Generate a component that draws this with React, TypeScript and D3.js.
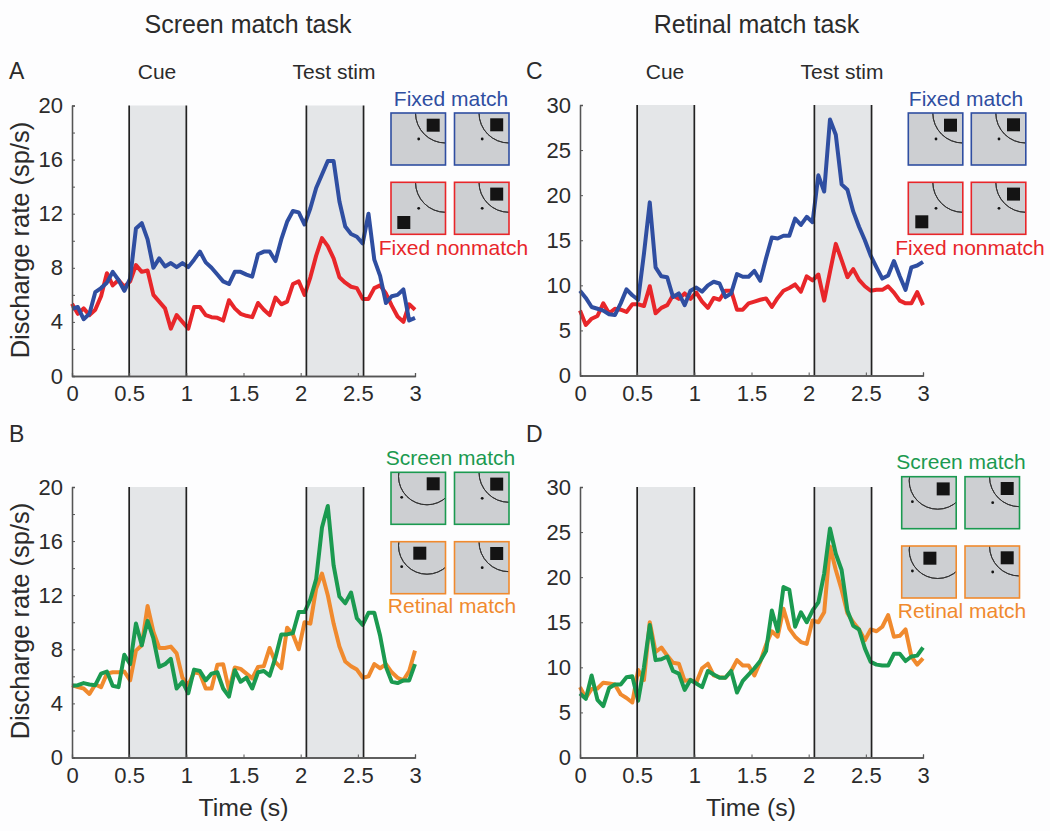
import { useEffect, useRef } from "react";
import * as d3 from "d3";

// 60 bins spread over the 3 s trial
const times = d3.range(60).map((i) => (i * 3) / 59);

const fixedMatchA = [4.97, 5.1, 4.2, 4.6, 6.2, 6.5, 6.9, 7.7, 7.1, 6.3, 7.2, 10.9, 11.3, 10.1, 8.0, 8.7, 8.1, 8.35, 8.05, 8.35, 8.05, 8.6, 9.2, 8.4, 8.0, 7.5, 7.0, 6.8, 7.7, 7.7, 7.5, 7.35, 9.0, 9.2, 9.2, 8.5, 10.1, 11.4, 12.2, 12.1, 11.2, 12.4, 13.9, 14.9, 15.9, 15.9, 12.9, 11.05, 10.5, 10.3, 9.8, 12.0, 8.6, 7.4, 5.4, 5.9, 6.0, 6.4, 4.1, 4.3];
const fixedNonmatchA = [5.35, 4.6, 5.0, 4.5, 4.9, 5.9, 7.6, 6.7, 7.1, 6.6, 7.0, 8.2, 7.7, 7.8, 6.0, 5.5, 5.0, 3.5, 4.5, 4.0, 3.5, 5.1, 5.1, 4.5, 4.35, 4.3, 4.1, 5.6, 5.0, 4.6, 4.45, 4.35, 5.4, 4.9, 4.5, 5.8, 5.3, 5.5, 6.8, 7.0, 6.0, 7.3, 8.9, 10.2, 9.6, 8.7, 7.3, 6.9, 6.6, 6.5, 5.7, 5.7, 6.5, 6.7, 6.1, 5.2, 4.4, 4.0, 5.3, 4.9];

const screenMatchB = [5.3, 5.35, 5.5, 5.4, 5.35, 6.2, 6.35, 5.3, 5.2, 7.6, 6.9, 9.9, 8.3, 10.1, 8.8, 6.7, 6.9, 7.3, 5.1, 5.6, 4.75, 6.5, 6.4, 5.7, 6.2, 6.3, 5.1, 4.5, 6.45, 5.6, 5.9, 5.1, 6.3, 6.4, 6.05, 7.4, 9.1, 9.1, 9.2, 10.75, 10.75, 11.7, 13.2, 17.0, 18.6, 14.2, 11.9, 11.4, 12.2, 10.3, 9.8, 10.7, 10.7, 9.0, 6.7, 5.6, 5.5, 5.7, 5.7, 6.9];
const retinalMatchB = [5.35, 5.2, 5.1, 4.7, 5.4, 5.2, 6.2, 6.3, 6.3, 6.35, 5.7, 7.9, 8.3, 11.2, 9.3, 8.1, 8.1, 8.2, 7.7, 5.9, 5.35, 6.3, 6.2, 5.1, 5.1, 6.85, 6.9, 5.0, 6.65, 6.55, 6.2, 5.85, 6.7, 6.75, 8.1, 7.05, 6.6, 9.6, 9.1, 8.0, 10.0, 9.9, 12.5, 13.6, 12.0, 9.9, 8.2, 7.1, 6.75, 6.5, 5.9, 6.0, 6.9, 6.6, 6.9, 6.3, 5.9, 5.7, 6.4, 7.9];

const fixedMatchC = [9.4, 8.6, 7.6, 7.4, 7.2, 6.8, 6.7, 8.0, 9.55, 8.9, 8.4, 13.5, 19.2, 12.0, 11.0, 10.9, 8.7, 9.1, 7.8, 9.4, 9.75, 9.3, 10.0, 10.4, 10.2, 8.7, 9.1, 11.25, 10.95, 10.95, 11.6, 10.5, 13.0, 15.3, 15.2, 15.5, 15.5, 17.4, 16.7, 17.6, 17.0, 22.2, 20.4, 28.4, 26.7, 21.2, 20.6, 18.2, 16.5, 15.0, 13.3, 12.0, 10.75, 11.1, 12.7, 11.0, 9.5, 12.0, 12.2, 12.6];
const fixedNonmatchC = [7.2, 5.6, 6.3, 6.6, 8.0, 6.9, 7.4, 7.3, 7.05, 7.9, 7.9, 7.7, 9.9, 6.9, 7.5, 7.8, 8.9, 8.5, 9.1, 8.5, 9.2, 8.2, 7.5, 8.6, 8.4, 9.4, 9.4, 7.3, 7.3, 8.0, 8.2, 8.4, 8.55, 7.6, 8.6, 9.4, 9.7, 10.1, 9.3, 11.0, 10.55, 11.2, 8.3, 11.5, 14.6, 12.8, 10.9, 11.8, 10.6, 9.9, 9.4, 9.5, 9.5, 9.9, 9.2, 8.3, 8.0, 8.0, 9.25, 7.8];

const screenMatchD = [7.1, 6.5, 9.1, 6.4, 5.7, 7.7, 8.1, 8.1, 8.9, 9.0, 6.3, 10.0, 14.7, 10.8, 10.9, 11.2, 9.6, 9.3, 7.5, 8.6, 8.2, 7.8, 9.6, 9.2, 8.85, 8.85, 9.6, 7.2, 8.5, 9.2, 9.9, 10.7, 11.8, 16.3, 14.0, 18.9, 18.6, 14.5, 16.1, 15.0, 16.3, 17.2, 20.4, 25.4, 22.6, 20.8, 16.3, 14.6, 14.2, 12.1, 10.6, 10.3, 10.2, 10.2, 11.5, 11.5, 10.7, 11.2, 11.3, 12.2];
const retinalMatchD = [7.8, 6.6, 7.6, 7.65, 8.3, 8.2, 8.1, 7.0, 6.6, 6.1, 9.7, 8.6, 15.0, 11.7, 12.2, 11.3, 10.5, 10.4, 8.5, 8.6, 8.3, 9.9, 10.4, 9.1, 8.9, 8.85, 9.6, 10.8, 10.2, 10.2, 9.1, 10.6, 12.5, 14.0, 13.4, 16.5, 14.3, 13.4, 12.8, 12.6, 15.2, 15.0, 16.1, 23.4, 20.8, 18.6, 16.0, 15.0, 14.2, 13.0, 14.2, 14.0, 14.5, 15.8, 13.4, 13.5, 14.2, 11.2, 10.3, 11.0];

const xTicks = [0, 0.5, 1, 1.5, 2, 2.5, 3];
const yTicks20 = [0, 4, 8, 12, 16, 20];
const yMinor20 = [0, 2, 4, 6, 8, 10, 12, 14, 16, 18, 20];
const yTicks30 = [0, 5, 10, 15, 20, 25, 30];
const cueWindow = [0.5, 1];
const testWindow = [2.05, 2.55];

const BLUE = "#2f4ea1";
const RED = "#e8262a";
const GREEN = "#1b9a50";
const ORANGE = "#f08a2e";
const INK = "#2b2b2b";
const FONT = "'Liberation Sans', Arial, sans-serif";

function Axes({ x, y, yTicks, yMinor, bottom, left }: any) {
  const ref = useRef<SVGGElement | null>(null);
  useEffect(() => {
    const g = d3.select(ref.current);
    g.selectAll("*").remove();
    const yMajor = d3.axisLeft(y).tickValues(yTicks).tickSize(0).tickPadding(9).tickFormat(d3.format("d") as any);
    const yIn = d3.axisLeft(y).tickValues(yMinor).tickSize(-3).tickFormat(() => "");
    const xMajor = d3.axisBottom(x).tickValues(xTicks).tickSize(0).tickPadding(9.5).tickFormat((d: any) => String(d));
    const xIn = d3.axisBottom(x).tickValues(xTicks).tickSize(-3).tickFormat(() => "");

    const gy = g.append("g").attr("transform", `translate(${left},0)`);
    gy.append("g").call(yIn);
    gy.append("g").call(yMajor);
    const gx = g.append("g").attr("transform", `translate(0,${bottom})`);
    gx.append("g").call(xIn);
    gx.append("g").call(xMajor);

    g.selectAll(".domain").attr("stroke", "#555").attr("stroke-width", 1.3);
    g.selectAll(".tick line").attr("stroke", "#555").attr("stroke-width", 1);
    g.selectAll("text")
      .attr("fill", INK)
      .style("font-family", FONT)
      .style("font-size", "22px");
  }, []);
  return <g ref={ref} />;
}

function Plot({ left, top, yMax, yTicks, yMinor, first, second, firstColor, secondColor }: any) {
  const bottom = top + 270.5;
  const x = d3.scaleLinear().domain([0, 3]).range([left, left + 343]);
  const y = d3.scaleLinear().domain([0, yMax]).range([bottom, top]);
  const line = d3
    .line<number>()
    .x((_, i) => x(times[i]))
    .y((d) => y(d));
  const windows = [cueWindow, testWindow];

  return (
    <g>
      {windows.map((w, i) => (
        <rect key={i} x={x(w[0])} y={top} width={x(w[1]) - x(w[0])} height={bottom - top} fill="#e4e6e8" />
      ))}
      <path d={line(second) ?? ""} fill="none" stroke={secondColor} strokeWidth={4} strokeLinejoin="round" />
      <path d={line(first) ?? ""} fill="none" stroke={firstColor} strokeWidth={4} strokeLinejoin="round" />
      {windows.flat().map((t, i) => (
        <line key={i} x1={x(t)} x2={x(t)} y1={top} y2={bottom} stroke="#222" strokeWidth={1.7} />
      ))}
      <Axes x={x} y={y} yTicks={yTicks} yMinor={yMinor} bottom={bottom} left={left} />
    </g>
  );
}

// one small stimulus box; the arc is the receptive field edge
function Icon({ id, bx, by, color, square, dot, arcAt, r }: any) {
  const w = 54.5;
  const h = 52;
  const arc = d3.arc()({
    innerRadius: r,
    outerRadius: r,
    startAngle: Math.PI / 2,
    endAngle: (Math.PI * 3) / 2 + Math.PI / 2,
  } as any);
  return (
    <g transform={`translate(${bx},${by})`}>
      <clipPath id={id}>
        <rect width={w} height={h} />
      </clipPath>
      <rect width={w} height={h} fill="#cdcfd2" />
      <g clipPath={`url(#${id})`}>
        <path d={arc ?? ""} transform={`translate(${arcAt[0]},${arcAt[1]})`} fill="none" stroke="#333" strokeWidth={1} />
      </g>
      <rect x={square[0]} y={square[1]} width={13} height={13} fill="#141414" />
      <circle cx={dot[0]} cy={dot[1]} r={1.4} fill="#141414" />
      <rect width={w} height={h} fill="none" stroke={color} strokeWidth={1.6} />
    </g>
  );
}

const cornerArc = { arcAt: [54.5, 0], r: 30, dot: [27.7, 26] };
const wideArc = { arcAt: [36, 4], r: 28.5, dot: [10.7, 25] };

function IconGrid({ name, x1, x2, y1, y2, topColor, lowColor, topFirst, lowFirst, lowFirstSquare, topFirstSquare }: any) {
  return (
    <g>
      <Icon id={`${name}a`} bx={x1} by={y1} color={topColor} square={topFirstSquare} {...topFirst} />
      <Icon id={`${name}b`} bx={x2} by={y1} color={topColor} square={[35.7, 5.3]} {...cornerArc} />
      <Icon id={`${name}c`} bx={x1} by={y2} color={lowColor} square={lowFirstSquare} {...lowFirst} />
      <Icon id={`${name}d`} bx={x2} by={y2} color={lowColor} square={[35.7, 5.3]} {...cornerArc} />
    </g>
  );
}

function Label({ x, y, size, color = INK, anchor = "middle", children }: any) {
  return (
    <text x={x} y={y} fontSize={size} fill={color} textAnchor={anchor} fontFamily={FONT}>
      {children}
    </text>
  );
}

export default function App() {
  return (
    <svg width={1050} height={831} style={{ position: "absolute", left: 0, top: 0, background: "#fdfdfe" }}>
      <Label x={248} y={33} size={25}>Screen match task</Label>
      <Label x={756.5} y={33} size={25}>Retinal match task</Label>

      <Label x={9} y={79} size={23} anchor="start">A</Label>
      <Label x={526} y={79} size={23} anchor="start">C</Label>
      <Label x={9} y={442} size={23} anchor="start">B</Label>
      <Label x={526} y={442} size={23} anchor="start">D</Label>

      <Label x={157} y={79} size={21}>Cue</Label>
      <Label x={334} y={79} size={21}>Test stim</Label>
      <Label x={665} y={79} size={21}>Cue</Label>
      <Label x={842} y={79} size={21}>Test stim</Label>

      <g transform="translate(29,240) rotate(-90)">
        <Label x={0} y={0} size={25.5}>Discharge rate (sp/s)</Label>
      </g>
      <g transform="translate(29,621) rotate(-90)">
        <Label x={0} y={0} size={25.5}>Discharge rate (sp/s)</Label>
      </g>
      <Label x={243.5} y={816} size={24.8}>Time (s)</Label>
      <Label x={751} y={816} size={24.8}>Time (s)</Label>

      <Plot left={72} top={105.5} yMax={20} yTicks={yTicks20} yMinor={yMinor20} first={fixedMatchA} second={fixedNonmatchA} firstColor={BLUE} secondColor={RED} />
      <Plot left={580} top={105} yMax={30} yTicks={yTicks30} yMinor={yTicks30} first={fixedMatchC} second={fixedNonmatchC} firstColor={BLUE} secondColor={RED} />
      <Plot left={72} top={487} yMax={20} yTicks={yTicks20} yMinor={yMinor20} first={screenMatchB} second={retinalMatchB} firstColor={GREEN} secondColor={ORANGE} />
      <Plot left={580} top={487} yMax={30} yTicks={yTicks30} yMinor={yTicks30} first={screenMatchD} second={retinalMatchD} firstColor={GREEN} secondColor={ORANGE} />

      <IconGrid name="a" x1={391} x2={454.5} y1={113} y2={182.3} topColor={BLUE} lowColor={RED} topFirst={cornerArc} lowFirst={cornerArc} topFirstSquare={[35.7, 5.7]} lowFirstSquare={[6.3, 33.7]} />
      <IconGrid name="c" x1={908.3} x2={971.3} y1={113} y2={182.3} topColor={BLUE} lowColor={RED} topFirst={cornerArc} lowFirst={cornerArc} topFirstSquare={[35.7, 5.7]} lowFirstSquare={[7, 33]} />
      <IconGrid name="b" x1={391} x2={454.5} y1={472.3} y2={541.7} topColor={GREEN} lowColor={ORANGE} topFirst={wideArc} lowFirst={wideArc} topFirstSquare={[35.7, 5]} lowFirstSquare={[22.3, 5]} />
      <IconGrid name="d" x1={901.7} x2={965} y1={476.7} y2={546} topColor={GREEN} lowColor={ORANGE} topFirst={wideArc} lowFirst={wideArc} topFirstSquare={[35, 5.7]} lowFirstSquare={[21.7, 5.7]} />

      <Label x={451} y={106} size={21} color={BLUE}>Fixed match</Label>
      <Label x={453.5} y={255} size={21} color={RED}>Fixed nonmatch</Label>
      <Label x={966} y={106} size={21} color={BLUE}>Fixed match</Label>
      <Label x={970} y={255} size={21} color={RED}>Fixed nonmatch</Label>
      <Label x={450.5} y={465} size={21} color={GREEN}>Screen match</Label>
      <Label x={452} y={613} size={21} color={ORANGE}>Retinal match</Label>
      <Label x={961} y={469} size={21} color={GREEN}>Screen match</Label>
      <Label x={962} y={618} size={21} color={ORANGE}>Retinal match</Label>
    </svg>
  );
}
